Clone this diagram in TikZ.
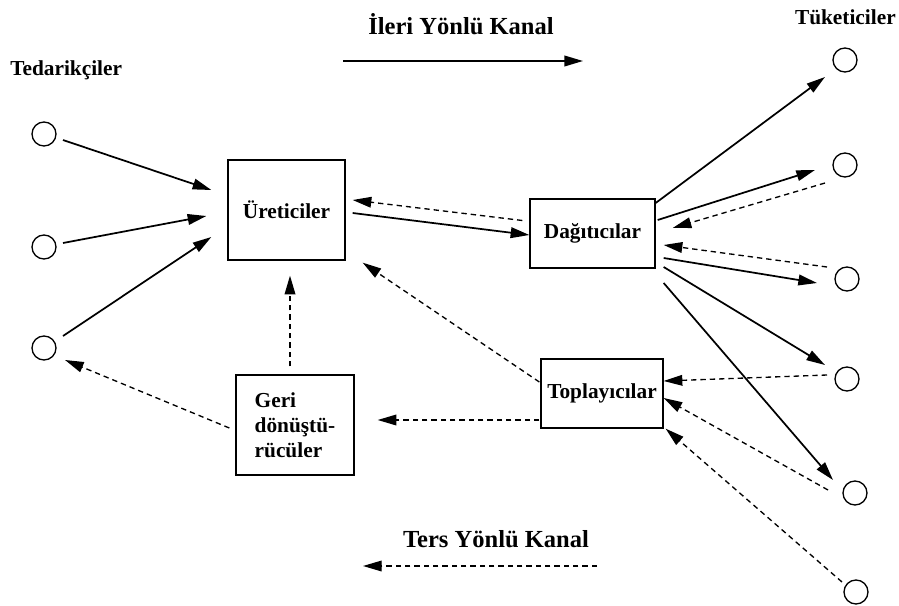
\documentclass[tikz,border=0pt]{standalone}
\usepackage{fontspec}
\setmainfont{Liberation Serif}
\usetikzlibrary{arrows.meta}
\begin{document}
\begin{tikzpicture}[x=0.75pt,y=-0.75pt,
  lbl/.style={font=\fontsize{16}{18.8}\selectfont\bfseries},
  ttl/.style={font=\fontsize{18.4}{22}\selectfont\bfseries},
  plain/.style={inner sep=0pt},
  box/.style={draw,line width=1pt,inner sep=0pt,lbl},
  party/.style={draw,circle,line width=1pt,minimum size=18pt,inner sep=0pt},
  fwd/.style={line width=1.3pt,-{Triangle[length=14pt,width=8pt]}},
  rev/.style={line width=1pt,dash pattern=on 4pt off 3pt,-{Triangle[length=14pt,width=8pt]}}
]
\useasboundingbox (0,0) rectangle (899,606);
% titles
\node[ttl,plain,anchor=base] (tfwd) at (461,35) {İleri Yönlü Kanal};
\node[ttl,plain,anchor=base] (trev) at (496,547) {Ters Yönlü Kanal};
\node[lbl,plain,anchor=base west] (tsup) at (10,76) {Tedarikçiler};
\node[lbl,plain,anchor=base east] (tcon) at (896,25) {Tüketiciler};
\coordinate (fa1) at (343,61); \coordinate (fa2) at (583,61);
\coordinate (ra1) at (597,566); \coordinate (ra2) at (363,566);
\draw[fwd] (fa1) -- (fa2);
\draw[rev] (ra1) -- (ra2);
% suppliers
\node[party] (s1) at (44,134) {};
\node[party] (s2) at (44,247) {};
\node[party] (s3) at (44,348) {};
% consumers
\node[party] (c1) at (845,60) {};
\node[party] (c2) at (845,165) {};
\node[party] (c3) at (847,279) {};
\node[party] (c4) at (847,379) {};
\node[party] (c5) at (855,493) {};
\node[party] (c6) at (856,592) {};
% boxes
\node[box,minimum width=87.75pt,minimum height=75pt] (u) at (286.5,210) {Üreticiler};
\node[box,minimum width=93.75pt,minimum height=51.75pt] (d) at (592.5,233.5) {Dağıtıcılar};
\node[box,minimum width=88.5pt,minimum height=75pt,align=left] (g) at (295,425) {Geri\\dönüştü-\\rücüler};
\node[box,minimum width=91.5pt,minimum height=51.75pt] (t) at (602,393.5) {Toplayıcılar};
% forward flows
\draw[fwd] ([shift={(19,6)}]s1.center) -- ([shift={(-16,-20)}]u.west);
\draw[fwd] ([shift={(19,-4)}]s2.center) -- ([shift={(-21,6)}]u.west);
\draw[fwd] ([shift={(19,-12)}]s3.center) -- ([shift={(-16,27)}]u.west);
\draw[fwd] ([shift={(7,3)}]u.east) -- ([shift={(0,1.5)}]d.west);
\draw[fwd] ([shift={(0,-30.5)}]d.east) -- ([shift={(-20,17)}]c1.center);
\draw[fwd] ([shift={(2,-13.5)}]d.east) -- ([shift={(-30,5)}]c2.center);
\draw[fwd] ([shift={(8,24.5)}]d.east) -- ([shift={(-30,4)}]c3.center);
\draw[fwd] ([shift={(8,33.5)}]d.east) -- ([shift={(-22,-14)}]c4.center);
\draw[fwd] ([shift={(8,49.5)}]d.east) -- ([shift={(-22,-13)}]c5.center);
% reverse flows
\draw[rev] ([shift={(-7,-13)}]d.west) -- ([shift={(7,-10)}]u.east);
\draw[rev] ([shift={(-20,18)}]c2.center) -- ([shift={(17,-5.5)}]d.east);
\draw[rev] ([shift={(-20,-12)}]c3.center) -- ([shift={(8,11.5)}]d.east);
\draw[rev] ([shift={(-1,-11.5)}]t.west) -- ([shift={(17,2)}]u.south east);
\draw[rev] ([shift={(-1,26.5)}]t.west) -- ([shift={(23,-5)}]g.east);
\draw[rev] ([shift={(-5,-8)}]g.north) -- ([shift={(3.5,15)}]u.south);
\draw[rev] ([shift={(-6,3)}]g.west) -- ([shift={(21,12)}]s3.center);
\draw[rev] ([shift={(-20,-4)}]c4.center) -- ([shift={(0,-12.5)}]t.east);
\draw[rev] ([shift={(-27,-3)}]c5.center) -- ([shift={(0,4.5)}]t.east);
\draw[rev] ([shift={(-14,-10)}]c6.center) -- ([shift={(2,0)}]t.south east);
\end{tikzpicture}
\end{document}
